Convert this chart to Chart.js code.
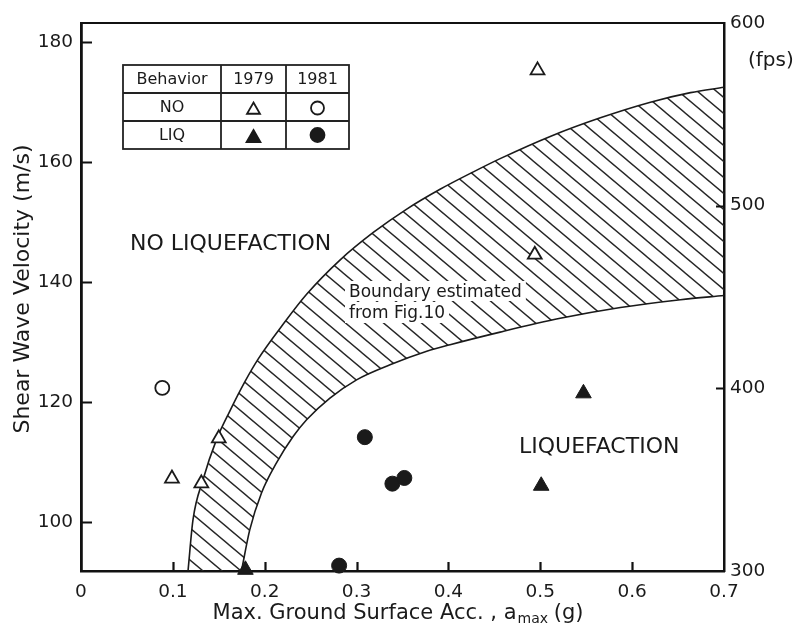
<!DOCTYPE html>
<html>
<head>
<meta charset="utf-8">
<style>
  html, body { margin: 0; padding: 0; background: #fff; }
  canvas { display: block; }
</style>
<script src="https://cdn.jsdelivr.net/npm/chart.js@4/dist/chart.umd.min.js"></script>
</head>
<body>
<canvas id="c" width="799" height="625"></canvas>
<script>
// Axis ticks
const accTicks = [0, 0.1, 0.2, 0.3, 0.4, 0.5, 0.6, 0.7];
const vsTicks = [100, 120, 140, 160, 180];
const fpsTicks = [300, 400, 500, 600];

// Site observations: acceleration (g) vs shear wave velocity (m/s)
const noLiq1979 = [
  { x: 0.497, y: 175.3 }, { x: 0.494, y: 144.6 }, { x: 0.150, y: 114.0 },
  { x: 0.099, y: 107.3 }, { x: 0.131, y: 106.5 }
];
const noLiq1981 = [ { x: 0.0885, y: 122.4 } ];
const liq1979 = [ { x: 0.179, y: 92.1 }, { x: 0.547, y: 121.5 }, { x: 0.501, y: 106.1 } ];
const liq1981 = [
  { x: 0.309, y: 114.2 }, { x: 0.339, y: 106.45 }, { x: 0.352, y: 107.4 }, { x: 0.281, y: 92.8 }
];

// Estimated boundary band (upper and lower limits)
const upperBound = [
  { x: 0.1165, y: 91.9 }, { x: 0.1219, y: 100.4 }, { x: 0.1328, y: 107.1 }, { x: 0.1474, y: 113.75 },
  { x: 0.1619, y: 118.5 }, { x: 0.1783, y: 123.4 }, { x: 0.1928, y: 127.2 }, { x: 0.2200, y: 133.0 },
  { x: 0.2456, y: 138.0 }, { x: 0.2819, y: 143.7 }, { x: 0.3182, y: 148.3 }, { x: 0.3546, y: 152.2 },
  { x: 0.3909, y: 155.5 }, { x: 0.4272, y: 158.4 }, { x: 0.4563, y: 160.6 }, { x: 0.5108, y: 164.3 },
  { x: 0.5654, y: 167.4 }, { x: 0.6199, y: 170.0 }, { x: 0.6635, y: 171.6 }, { x: 0.7, y: 172.5 }
];
const lowerBound = [
  { x: 0.1747, y: 91.9 }, { x: 0.1837, y: 98.75 }, { x: 0.1965, y: 104.9 }, { x: 0.2128, y: 109.9 },
  { x: 0.2309, y: 114.3 }, { x: 0.2456, y: 117.1 }, { x: 0.2710, y: 120.7 }, { x: 0.3000, y: 123.75 },
  { x: 0.3364, y: 126.25 }, { x: 0.3764, y: 128.5 }, { x: 0.4018, y: 129.6 }, { x: 0.4563, y: 131.7 },
  { x: 0.5217, y: 134.0 }, { x: 0.5872, y: 135.8 }, { x: 0.6526, y: 137.1 }, { x: 0.7, y: 137.8 }
];
const bandShape = upperBound.concat(lowerBound.slice().reverse());

const FONT = "'DejaVu Sans', sans-serif";
const INK = '#1a1a1a';

// Diagonal hatch pattern for the boundary band
function makeHatch() {
  const w = 19, h = 16;
  const c = document.createElement('canvas');
  c.width = w; c.height = h;
  const g = c.getContext('2d');
  g.strokeStyle = '#262626';
  g.lineWidth = 1.4;
  for (const dx of [-w, 0, w]) {
    g.beginPath();
    g.moveTo(dx - w, -h);
    g.lineTo(dx + 2 * w, 2 * h);
    g.stroke();
  }
  return g.createPattern(c, 'repeat');
}

function drawMarker(ctx, style, radius, filled, x, y) {
  ctx.save();
  ctx.fillStyle = filled ? INK : '#fff';
  ctx.strokeStyle = INK;
  ctx.lineWidth = 1.8;
  Chart.helpers.drawPoint(ctx, { pointStyle: style, radius: radius, rotation: 0, borderWidth: 1.8 }, x, y);
  ctx.restore();
}

const paperPlugin = {
  id: 'paper',
  afterDatasetsDraw(chart) {
    const ctx = chart.ctx;
    ctx.save();
    ctx.fillStyle = INK;
    ctx.textBaseline = 'alphabetic';
    ctx.textAlign = 'left';

    // Region labels
    ctx.font = '22px ' + FONT;
    ctx.fillText('NO LIQUEFACTION', 130, 250);
    ctx.fillText('LIQUEFACTION', 519, 453);

    // Band note with a clear backing
    ctx.font = '17px ' + FONT;
    const l1 = 'Boundary estimated', l2 = 'from Fig.10';
    const w1 = ctx.measureText(l1).width, w2 = ctx.measureText(l2).width;
    ctx.fillStyle = '#fff';
    ctx.fillRect(345, 281, w1 + 8, 20);
    ctx.fillRect(345, 302, w2 + 8, 21);
    ctx.fillStyle = INK;
    ctx.fillText(l1, 349, 297);
    ctx.fillText(l2, 349, 318);

    // Legend table
    const cx = [123, 221, 286, 349];
    const ry = [65, 93, 121, 149];
    ctx.fillStyle = '#fff';
    ctx.fillRect(cx[0], ry[0], cx[3] - cx[0], ry[3] - ry[0]);
    ctx.strokeStyle = '#222';
    ctx.lineWidth = 1.8;
    ctx.strokeRect(cx[0], ry[0], cx[3] - cx[0], ry[3] - ry[0]);
    ctx.beginPath();
    for (const x of [cx[1], cx[2]]) { ctx.moveTo(x, ry[0]); ctx.lineTo(x, ry[3]); }
    for (const y of [ry[1], ry[2]]) { ctx.moveTo(cx[0], y); ctx.lineTo(cx[3], y); }
    ctx.stroke();
    ctx.fillStyle = INK;
    ctx.font = '16px ' + FONT;
    ctx.textAlign = 'center';
    ctx.textBaseline = 'middle';
    const mid = (a, b) => (a + b) / 2;
    ctx.fillText('Behavior', mid(cx[0], cx[1]), mid(ry[0], ry[1]) + 1);
    ctx.fillText('1979', mid(cx[1], cx[2]), mid(ry[0], ry[1]) + 1);
    ctx.fillText('1981', mid(cx[2], cx[3]), mid(ry[0], ry[1]) + 1);
    ctx.fillText('NO', mid(cx[0], cx[1]), mid(ry[1], ry[2]) + 1);
    ctx.fillText('LIQ', mid(cx[0], cx[1]), mid(ry[2], ry[3]) + 1);
    drawMarker(ctx, 'triangle', 7.5, false, mid(cx[1], cx[2]), mid(ry[1], ry[2]) + 3);
    drawMarker(ctx, 'circle', 6.5, false, mid(cx[2], cx[3]), mid(ry[1], ry[2]) + 1);
    drawMarker(ctx, 'triangle', 8, true, mid(cx[1], cx[2]), mid(ry[2], ry[3]) + 3);
    drawMarker(ctx, 'circle', 7, true, mid(cx[2], cx[3]), mid(ry[2], ry[3]));
    ctx.restore();
  },
  afterDraw(chart) {
    const { ctx, chartArea: a, scales } = chart;
    ctx.save();
    ctx.strokeStyle = '#111';
    ctx.lineCap = 'butt';

    // Top frame line
    ctx.lineWidth = 2;
    ctx.beginPath();
    ctx.moveTo(a.left - 1, a.top);
    ctx.lineTo(a.right + 1, a.top);
    ctx.stroke();

    // Inward tick marks
    ctx.lineWidth = 2.2;
    ctx.beginPath();
    for (const v of accTicks) {
      if (v <= 0 || v >= 0.7) continue;
      const px = Math.round(scales.x.getPixelForValue(v)) + 0.5;
      ctx.moveTo(px, a.bottom);
      ctx.lineTo(px, a.bottom - 9);
    }
    for (const v of vsTicks) {
      const py = Math.round(scales.y.getPixelForValue(v)) + 0.5;
      ctx.moveTo(a.left, py);
      ctx.lineTo(a.left + 11, py);
    }
    for (const v of fpsTicks) {
      if (v <= 300 || v >= 600) continue;
      const py = Math.round(scales.y2.getPixelForValue(v)) + 0.5;
      ctx.moveTo(a.right, py);
      ctx.lineTo(a.right - 8, py);
    }
    ctx.stroke();

    ctx.fillStyle = INK;
    // Right axis unit
    ctx.font = '20px ' + FONT;
    ctx.textAlign = 'left';
    ctx.textBaseline = 'middle';
    ctx.fillText('(fps)', 748, 61);

    // Y axis title
    ctx.save();
    ctx.translate(23, 289);
    ctx.rotate(-Math.PI / 2);
    ctx.font = '22px ' + FONT;
    ctx.textAlign = 'center';
    ctx.textBaseline = 'middle';
    ctx.fillText('Shear Wave Velocity (m/s)', 0, 0);
    ctx.restore();

    // X axis title with subscript
    const main = 'Max. Ground Surface Acc. , a', sub = 'max', tail = ' (g)';
    ctx.textBaseline = 'alphabetic';
    ctx.font = '21px ' + FONT;
    const wMain = ctx.measureText(main).width, wTail = ctx.measureText(tail).width;
    ctx.font = '14px ' + FONT;
    const wSub = ctx.measureText(sub).width;
    let x0 = 398 - (wMain + wSub + wTail) / 2;
    const base = 619;
    ctx.font = '21px ' + FONT;
    ctx.fillText(main, x0, base);
    ctx.font = '14px ' + FONT;
    ctx.fillText(sub, x0 + wMain + 1, base + 4);
    ctx.font = '21px ' + FONT;
    ctx.fillText(tail, x0 + wMain + wSub, base);
    ctx.restore();
  }
};

const ctx = document.getElementById('c').getContext('2d');
const hatch = makeHatch();
const tickFont = { family: FONT, size: 18.5 };
const noGrid = { display: false, drawTicks: false };

new Chart(ctx, {
  type: 'scatter',
  data: {
    datasets: [
      { label: 'NO 1979', data: noLiq1979, pointStyle: 'triangle', pointRadius: 8,
        backgroundColor: '#fff', borderColor: INK, borderWidth: 1.8, clip: false },
      { label: 'NO 1981', data: noLiq1981, pointStyle: 'circle', pointRadius: 7,
        backgroundColor: '#fff', borderColor: INK, borderWidth: 1.8, clip: false },
      { label: 'LIQ 1979', data: liq1979, pointStyle: 'triangle', pointRadius: 9,
        backgroundColor: INK, borderColor: INK, borderWidth: 1, clip: false },
      { label: 'LIQ 1981', data: liq1981, pointStyle: 'circle', pointRadius: 7.5,
        backgroundColor: INK, borderColor: INK, borderWidth: 1, clip: false },
      { label: 'Upper limit', data: upperBound, showLine: true, pointRadius: 0,
        borderColor: '#1a1a1a', borderWidth: 1.6, cubicInterpolationMode: 'monotone', fill: false },
      { label: 'Lower limit', data: lowerBound, showLine: true, pointRadius: 0,
        borderColor: '#1a1a1a', borderWidth: 1.6, cubicInterpolationMode: 'monotone', fill: false },
      { label: 'Boundary band', data: bandShape, showLine: true, pointRadius: 0,
        borderWidth: 0, borderColor: 'rgba(0,0,0,0)', backgroundColor: hatch, tension: 0, fill: 'shape' }
    ]
  },
  options: {
    responsive: false,
    devicePixelRatio: 1,
    animation: false,
    layout: { padding: { top: 23, left: 0, right: 0, bottom: 0 } },
    plugins: { legend: { display: false }, tooltip: { enabled: false } },
    scales: {
      x: {
        type: 'linear', min: 0, max: 0.7,
        afterBuildTicks: s => { s.ticks = accTicks.map(v => ({ value: v })); },
        afterFit: s => { s.height = 54; },
        ticks: { font: tickFont, color: INK, padding: 10,
                 callback: v => (v === 0 ? '0' : v.toFixed(1)) },
        grid: noGrid,
        border: { display: true, color: '#111', width: 2.5 }
      },
      y: {
        type: 'linear', position: 'left', min: 91.9, max: 183.2,
        afterBuildTicks: s => { s.ticks = vsTicks.map(v => ({ value: v })); },
        afterFit: s => { s.width = 81; },
        ticks: { font: tickFont, color: INK, padding: 8, callback: v => String(v) },
        grid: noGrid,
        border: { display: true, color: '#111', width: 2.8 }
      },
      y2: {
        type: 'linear', position: 'right', min: 300, max: 600,
        afterBuildTicks: s => { s.ticks = fpsTicks.map(v => ({ value: v })); },
        afterFit: s => { s.width = 75; },
        ticks: { font: tickFont, color: INK, padding: 6, callback: v => String(v) },
        grid: noGrid,
        border: { display: true, color: '#111', width: 2.5 }
      }
    }
  },
  plugins: [paperPlugin]
});
</script>
</body>
</html>
